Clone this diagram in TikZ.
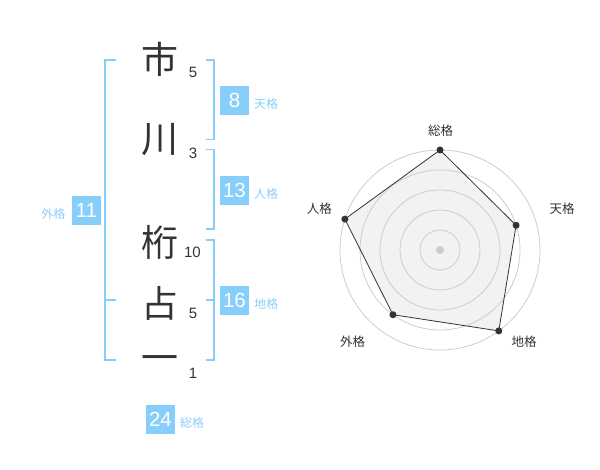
\documentclass[tikz,border=0pt]{standalone}
\usepackage{fontspec}
\usetikzlibrary{calc}
\setmainfont{Liberation Sans}
\newfontfamily\jp{Noto Sans CJK JP}
\definecolor{skyb}{RGB}{135,206,250}
\definecolor{labb}{RGB}{140,206,246}
\definecolor{dk}{RGB}{51,51,51}
\definecolor{ring}{RGB}{204,204,204}
\definecolor{area}{RGB}{242,242,242}
\tikzset{
  kanji/.style={inner sep=0pt, font=\jp\fontsize{37}{37}\selectfont, text=dk},
  strokes/.style={inner sep=0pt, font=\fontsize{15}{15}\selectfont, text=dk},
  numbox/.style={fill=skyb, text=white, minimum size=29pt, inner sep=0pt, font=\fontsize{20.5}{20.5}\selectfont},
  kaku/.style={inner sep=0pt, text=labb, font=\jp\fontsize{12}{12}\selectfont},
  bracket/.style={draw=skyb, line width=1.5pt},
  rlabel/.style={inner sep=0pt, text=dk, font=\jp\fontsize{12.5}{12.5}\selectfont},
  dot/.style={circle, fill=dk, inner sep=0pt, minimum size=7pt}
}
\begin{document}
\begin{tikzpicture}[x=1pt,y=-1pt]
\useasboundingbox (0,0) rectangle (600,470);
% name characters
\node[kanji] (k1) at (160,59) {市};
\node[kanji] (k2) at (160,140) {川};
\node[kanji] (k3) at (160,242) {桁};
\node[kanji] (k4) at (160,303) {占};
\node[kanji] (k5) at (160,364) {一};
% stroke counts
\node[strokes] (s1) at (193,72.5) {5};
\node[strokes] (s2) at (193,153.3) {3};
\node[strokes] (s3) at (192.5,252.5) {10};
\node[strokes] (s4) at (193,313.3) {5};
\node[strokes] (s5) at (193,373) {1};
% brackets
\draw[bracket] (116,60) -- (105,60) -- (105,360) -- (116,360);
\draw[bracket] (105,300) -- (116,300);
\draw[bracket] (205.5,60) -- (214,60) -- (214,139.3) -- (205.5,139.3);
\draw[bracket] (205.5,149.3) -- (214,149.3) -- (214,229) -- (205.5,229);
\draw[bracket] (205.5,240) -- (214,240) -- (214,360) -- (205.5,360);
\draw[bracket] (205.5,300) -- (214,300);
% boxes and labels
\node[numbox] (b8) at (234.5,100.5) {8};
\node[kaku] (l8) at (266,104) {天格};
\node[numbox] (b13) at (234.5,190.5) {13};
\node[kaku] (l13) at (266,194) {人格};
\node[numbox] (b11) at (86.3,210.5) {11};
\node[kaku] (l11) at (53.3,214) {外格};
\node[numbox] (b16) at (234.5,300.5) {16};
\node[kaku] (l16) at (266.3,304) {地格};
\node[numbox] (b24) at (160.5,419.5) {24};
\node[kaku] (l24) at (192,422.5) {総格};
% radar chart
\coordinate (c) at (440,250);
\coordinate (p1) at ($(c)+(-90:100)$);
\coordinate (p2) at ($(c)+(-18:80)$);
\coordinate (p3) at ($(c)+(54:100)$);
\coordinate (p4) at ($(c)+(126:80)$);
\coordinate (p5) at ($(c)+(198:100)$);
\fill[area] (p1) -- (p2) -- (p3) -- (p4) -- (p5) -- cycle;
\foreach \r in {20,40,60,80,100} \draw[ring, line width=0.8pt] (c) circle (\r);
\fill[ring] (c) circle (4);
\draw[dk, line width=0.8pt] (p1) -- (p2) -- (p3) -- (p4) -- (p5) -- cycle;
\foreach \i in {1,...,5} \node[dot] (d\i) at (p\i) {};
\node[rlabel] (r1) at (440.7,130.7) {総格};
\node[rlabel] (r2) at (562,208.7) {天格};
\node[rlabel] (r3) at (524,342) {地格};
\node[rlabel] (r4) at (352.7,342) {外格};
\node[rlabel] (r5) at (319.3,208.7) {人格};
\end{tikzpicture}
\end{document}
